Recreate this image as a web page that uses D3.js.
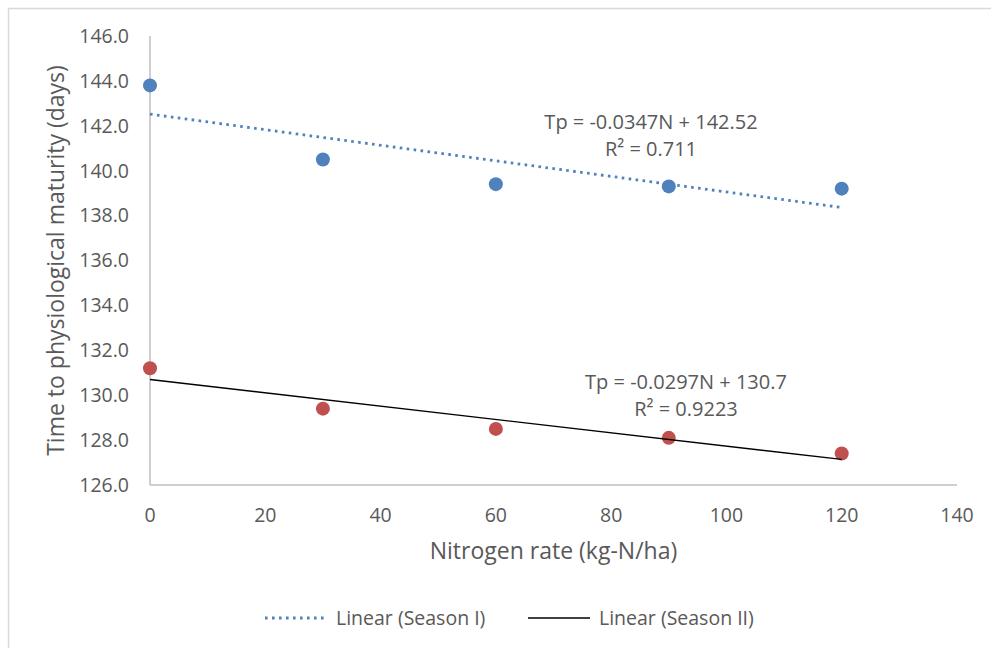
<!DOCTYPE html>
<meta charset="utf-8">
<script src="https://d3js.org/d3.v7.min.js"></script>
<style>
  body { margin: 0; background: #fff; }
  text { font-family: "Open Sans", sans-serif; fill: #595959; }
</style>
<svg width="991" height="648"></svg>
<script>

// nitrogen rates (kg-N/ha)
const nitrogen = [0, 30, 60, 90, 120];
// time to physiological maturity (days)
const season1 = [143.8, 140.5, 139.4, 139.3, 139.2];
const season2 = [131.2, 129.4, 128.5, 128.1, 127.4];

const xTicks = [0, 20, 40, 60, 80, 100, 120, 140];
const yTicks = [126, 128, 130, 132, 134, 136, 138, 140, 142, 144, 146];

const eq1 = ["Tp = -0.0347N + 142.52", "R² = 0.711"];
const eq2 = ["Tp = -0.0297N + 130.7", "R² = 0.9223"];
const legendLabels = ["Linear (Season I)", "Linear (Season II)"];

const fontSize = 19.5;
const titleSize = 23;

var svg = d3.select("svg");

// outer chart frame
svg.append("rect")
    .attr("x", 8.5).attr("y", 8.5)
    .attr("width", 1000).attr("height", 700)
    .attr("fill", "#fff")
    .attr("stroke", "#d9d9d9")
    .attr("stroke-width", 1.5);

var x = d3.scaleLinear().domain([0, 140]).range([150, 957]);
var y = d3.scaleLinear().domain([126, 146]).range([485, 36]);

// axis lines
svg.append("line")
    .attr("x1", x(0)).attr("x2", x(0))
    .attr("y1", y(146)).attr("y2", y(126))
    .attr("stroke", "#bfbfbf").attr("stroke-width", 1.5);
svg.append("line")
    .attr("x1", x(0)).attr("x2", x(140))
    .attr("y1", y(126)).attr("y2", y(126))
    .attr("stroke", "#bfbfbf").attr("stroke-width", 1.5);

// tick labels
svg.append("g").selectAll("text")
    .data(yTicks)
    .enter().append("text")
      .attr("x", 129)
      .attr("y", d => y(d))
      .attr("dy", "0.35em")
      .attr("text-anchor", "end")
      .style("font-size", fontSize + "px")
      .text(d => d3.format(".1f")(d));

svg.append("g").selectAll("text")
    .data(xTicks)
    .enter().append("text")
      .attr("x", d => x(d))
      .attr("y", 515)
      .attr("dy", "0.35em")
      .attr("text-anchor", "middle")
      .style("font-size", fontSize + "px")
      .text(d => d);

// axis titles
svg.append("text")
    .attr("x", (x(0) + x(140)) / 2)
    .attr("y", 551)
    .attr("dy", "0.35em")
    .attr("text-anchor", "middle")
    .style("font-size", titleSize + "px")
    .text("Nitrogen rate (kg-N/ha)");

svg.append("text")
    .attr("transform", "translate(56," + (y(146) + y(126)) / 2 + ") rotate(-90)")
    .attr("dy", "0.35em")
    .attr("text-anchor", "middle")
    .style("font-size", titleSize + "px")
    .text("Time to physiological maturity (days)");

// least squares fit
function fit(xs, ys) {
  var mx = d3.mean(xs), my = d3.mean(ys);
  var num = d3.sum(xs, (v, i) => (v - mx) * (ys[i] - my));
  var den = d3.sum(xs, v => (v - mx) * (v - mx));
  var b = num / den;
  return { slope: b, intercept: my - b * mx };
}

var series = [
  { values: season1, color: "#4f81bd", line: "#4f81bd", dash: "2.6,4.4", width: 2.8, eq: eq1, eqX: 651, eqY: 122 },
  { values: season2, color: "#c0504d", line: "#000", dash: null, width: 1.4, eq: eq2, eqX: 686, eqY: 382 }
];

// dots
series.forEach(function(s) {
  svg.append("g").selectAll("circle")
    .data(nitrogen)
    .enter().append("circle")
      .attr("cx", d => x(d))
      .attr("cy", (d, i) => y(s.values[i]))
      .attr("r", 7)
      .attr("fill", s.color);
});

// trendlines and equations
series.forEach(function(s) {
  var f = fit(nitrogen, s.values);
  var x0 = d3.min(nitrogen), x1 = d3.max(nitrogen);
  svg.append("line")
    .attr("x1", x(x0)).attr("y1", y(f.intercept + f.slope * x0))
    .attr("x2", x(x1)).attr("y2", y(f.intercept + f.slope * x1))
    .attr("stroke", s.line)
    .attr("stroke-width", s.width)
    .attr("stroke-dasharray", s.dash);

  svg.append("g").selectAll("text")
    .data(s.eq)
    .enter().append("text")
      .attr("x", s.eqX)
      .attr("y", (d, i) => s.eqY + i * 26.5)
      .attr("dy", "0.35em")
      .attr("text-anchor", "middle")
      .style("font-size", (fontSize + 0.5) + "px")
      .text(d => d);
});

// legend
var legendPos = [265, 528];
series.forEach(function(s, i) {
  var lx = legendPos[i];
  svg.append("line")
    .attr("x1", lx).attr("x2", lx + 62)
    .attr("y1", 618).attr("y2", 618)
    .attr("stroke", s.line)
    .attr("stroke-width", s.width)
    .attr("stroke-dasharray", s.dash);
  svg.append("text")
    .attr("x", lx + 71)
    .attr("y", 618)
    .attr("dy", "0.35em")
    .style("font-size", fontSize + "px")
    .text(legendLabels[i]);
});

</script>
